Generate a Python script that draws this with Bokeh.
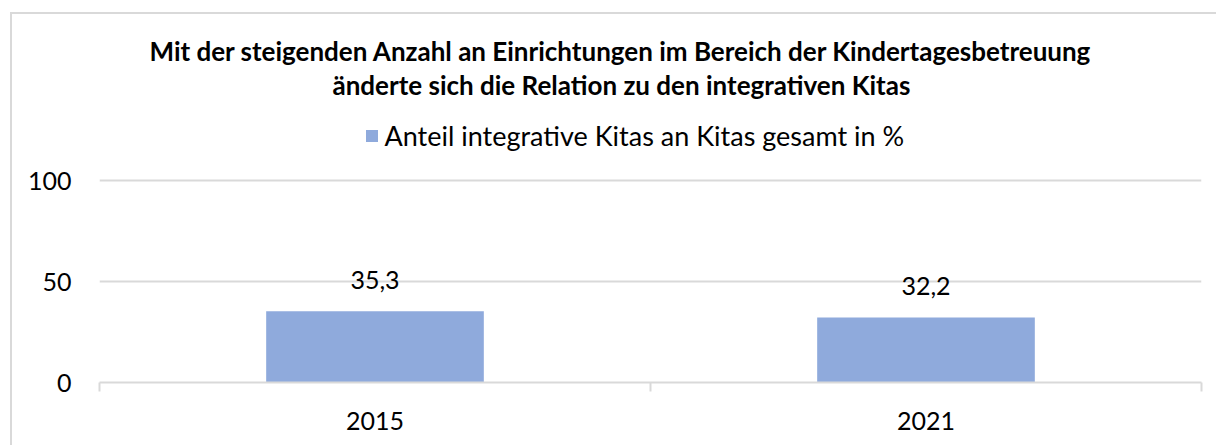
from bokeh.plotting import figure
from bokeh.models import Title, Legend, LegendItem, LinearAxis, Range1d, FixedTicker
from bokeh.core.properties import value
from bokeh.embed import file_html
from bokeh.resources import INLINE

# ---- data ----
years = ["2015", "2021"]
shares = [35.3, 32.2]
share_labels = ["35,3", "32,2"]
y_ticks = [0, 50, 100]
title_line1 = "Mit der steigenden Anzahl an Einrichtungen im Bereich der Kindertagesbetreuung"
title_line2 = "änderte sich die Relation zu den integrativen Kitas"
series_name = "Anteil integrative Kitas an Kitas gesamt in %"

FONT = "Lato"
GRID = "#d9d9d9"
BAR = "#8FAADC"
TXT = "#000000"

idx = list(range(len(years)))            # category slots
bounds = [i - 0.5 for i in range(len(years) + 1)]   # slot boundaries

# frame spans from y=100px to y=382px; value 100 sits at y=180px -> headroom for the legend
Y_END = 100 * (382 - 100) / (382 - 180)

p = figure(x_range=Range1d(-0.5, len(years) - 0.5), y_range=Range1d(0, Y_END),
           width=1216, height=445, output_backend="svg", toolbar_location=None,
           x_axis_type=None,
           min_border_left=99, min_border_right=15, min_border_top=100, min_border_bottom=63)
p.title.visible = False
p.background_fill_color = None
p.border_fill_color = None
p.outline_line_color = None
p.styles = {"box-shadow": "inset 10px 12px 0 0 #ffffff, inset 12px 14px 0 0 #d9d9d9"}

bars = p.vbar(x=idx, top=shares, width=0.395, fill_color=BAR, line_color=None)

p.text(x=idx, y=shares, text=share_labels, text_align="center", text_baseline="alphabetic",
       y_offset=-31, text_font=value(FONT), text_font_size="25px", text_color=TXT)

# y axis
p.yaxis.ticker = FixedTicker(ticks=y_ticks)
p.yaxis.axis_line_color = None
p.yaxis.major_tick_line_color = None
p.yaxis.minor_tick_line_color = None
p.yaxis.major_tick_out = 0
p.yaxis.major_label_standoff = 28
p.yaxis.major_label_text_font = FONT
p.yaxis.major_label_text_font_size = "25px"
p.yaxis.major_label_text_color = TXT

p.xgrid.grid_line_color = None
p.ygrid.ticker = FixedTicker(ticks=[50, 100])
p.ygrid.grid_line_color = GRID
p.ygrid.grid_line_width = 2

# separator axis (category boundaries) nearest to the frame
sep = LinearAxis(ticker=FixedTicker(ticks=bounds),
                 major_label_overrides={b: "" for b in bounds},
                 major_label_text_font_size="1px", major_label_standoff=0,
                 axis_line_color=GRID, axis_line_width=2,
                 major_tick_line_color=GRID, major_tick_line_width=2,
                 major_tick_out=9, major_tick_in=0, minor_tick_line_color=None)
p.add_layout(sep, "below")

# category label axis
cat = LinearAxis(ticker=FixedTicker(ticks=idx),
                 major_label_overrides={i: y for i, y in zip(idx, years)},
                 axis_line_color=None, major_tick_line_color=None, minor_tick_line_color=None,
                 major_tick_out=0, major_tick_in=0, major_label_standoff=20,
                 major_label_text_font=FONT, major_label_text_font_size="25px",
                 major_label_text_color=TXT)
p.add_layout(cat, "below")

legend = Legend(items=[LegendItem(label=series_name, renderers=[bars])],
                location=(264.5, 230), orientation="horizontal",
                padding=0, margin=0, spacing=0, glyph_width=15, glyph_height=15,
                label_standoff=6, label_text_font=FONT, label_text_font_size="27px",
                label_text_color=TXT, border_line_color=None, background_fill_color=None)
p.add_layout(legend)

p.add_layout(Title(text=title_line2, align="left", offset=233, standoff=0, text_font=FONT,
                   text_font_size="26px", text_font_style="bold", text_color=TXT), "above")
p.add_layout(Title(text=title_line1, align="left", offset=50, standoff=0, text_font=FONT,
                   text_font_size="26px", text_font_style="bold", text_color=TXT), "above")

open("out.html", "w").write(file_html(p, INLINE))
